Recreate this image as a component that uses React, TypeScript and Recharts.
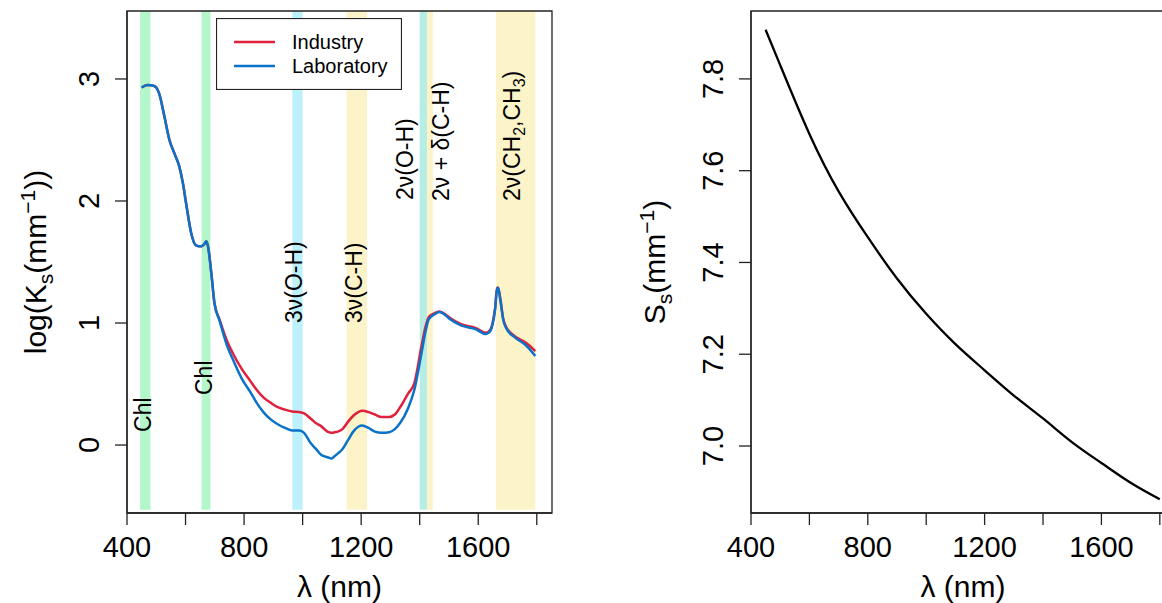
import React from 'react';
import {
  LineChart,
  Line,
  XAxis,
  YAxis,
  ReferenceArea,
  ReferenceDot,
  Legend,
} from 'recharts';

// wavelength grid (nm) for the log(Ks) spectra
const wavelengths = [
  450, 470, 490, 500, 510, 528, 545, 562, 579, 591, 602, 619, 634, 645, 655,
  665, 671, 677, 688, 699, 716, 744, 762, 793, 820, 842, 866, 891, 915, 940,
  965, 989, 1005, 1026, 1045, 1063, 1085, 1099, 1110, 1120, 1136, 1155, 1173, 1190, 1204,
  1225, 1247, 1270, 1296, 1315, 1333, 1360, 1382, 1406, 1420, 1431, 1450, 1467, 1485, 1504,
  1541, 1590, 1627, 1640, 1650, 1658, 1664, 1668, 1676, 1685, 1695, 1726, 1762, 1795,
];

const industry = [
  2.93, 2.95, 2.945, 2.93, 2.88, 2.69, 2.5, 2.39, 2.28, 2.145, 1.98, 1.74, 1.64, 1.63, 1.63,
  1.65, 1.67, 1.625, 1.41, 1.16, 1.03, 0.84, 0.75, 0.62, 0.53, 0.455, 0.39, 0.346, 0.31, 0.29,
  0.275, 0.27, 0.26, 0.22, 0.18, 0.155, 0.11, 0.1, 0.105, 0.11, 0.13, 0.19, 0.24, 0.27, 0.28,
  0.27, 0.25, 0.23, 0.23, 0.25, 0.31, 0.42, 0.51, 0.81, 0.97, 1.05, 1.08, 1.095, 1.075, 1.04,
  0.99, 0.96, 0.92, 0.94, 1.01, 1.13, 1.29, 1.29, 1.19, 1.04, 0.97, 0.89, 0.84, 0.77,
];

const laboratory = [
  2.93, 2.95, 2.945, 2.93, 2.88, 2.69, 2.5, 2.39, 2.28, 2.145, 1.98, 1.74, 1.64, 1.63, 1.63,
  1.65, 1.67, 1.625, 1.41, 1.16, 1.02, 0.8, 0.7, 0.54, 0.44, 0.35, 0.27, 0.21, 0.17, 0.14,
  0.12, 0.12, 0.1, 0.02, -0.03, -0.08, -0.1, -0.11, -0.09, -0.07, -0.035, 0.04, 0.11, 0.15, 0.16,
  0.14, 0.11, 0.1, 0.105, 0.13, 0.18, 0.3, 0.455, 0.75, 0.93, 1.03, 1.07, 1.09, 1.07, 1.03,
  0.98, 0.95, 0.91, 0.93, 1.0, 1.12, 1.27, 1.29, 1.18, 1.03, 0.96, 0.88, 0.82, 0.73,
];

// Ss curve
const ssWavelengths = [450, 500, 600, 700, 800, 900, 1000, 1100, 1200, 1300, 1400, 1500, 1600, 1700, 1800];
const ssValues = [7.907, 7.83, 7.68, 7.555, 7.455, 7.365, 7.288, 7.222, 7.165, 7.11, 7.06, 7.008, 6.963, 6.92, 6.884];

// absorption bands (nm) and their kind
const bandStart = [445, 655, 965, 1150, 1400, 1425, 1660];
const bandEnd = [480, 685, 1000, 1220, 1425, 1445, 1795];
const bandKind = ['chl', 'chl', 'oh', 'ch', 'oh2', 'ch', 'ch'];

// band annotations: wavelength, log(Ks) where the text starts
const noteWl = [455, 663, 970, 1174, 1350, 1473, 1715];
const noteY = [0.107, 0.41, 1.0, 1.0, 2.008, 2.0, 2.0];
const noteKey = ['chl', 'chl', '3oh', '3ch', '2oh', '2comb', '2ch'];

const xTicks = [400, 600, 800, 1000, 1200, 1400, 1600, 1800];
const xLabeled = [400, 800, 1200, 1600];
const ksTicks = [0, 1, 2, 3];
const ssTicks = [7.0, 7.2, 7.4, 7.6, 7.8];

const FONT = "'Liberation Sans', Arial, sans-serif";
const bandColors: Record<string, string> = {
  chl: '#b2f6c9',
  oh: '#bcf0fa',
  oh2: '#b6eee6',
  ch: '#fdf3c9',
};

const ksData = wavelengths.map((wl, i) => ({ wl, ind: industry[i], lab: laboratory[i] }));
const ssData = ssWavelengths.map((wl, i) => ({ wl, ss: ssValues[i] }));

const XTick = (props: any) => {
  const { x, y, payload } = props;
  if (!xLabeled.includes(payload.value)) return <g />;
  return (
    <text x={x} y={y} dy={32} textAnchor="middle" fontSize={29} fontFamily={FONT} fill="#000">
      {payload.value}
    </text>
  );
};

const makeYTick = (fmt: (v: number) => string) => (props: any) => {
  const { x, y, payload } = props;
  const bx = x - 16;
  return (
    <text
      x={bx}
      y={y}
      transform={`rotate(-90, ${bx}, ${y})`}
      textAnchor="middle"
      fontSize={29}
      fontFamily={FONT}
      fill="#000"
    >
      {fmt(payload.value)}
    </text>
  );
};

const noteText = (key: string) => {
  if (key === 'chl') return 'Chl';
  if (key === '3oh') return '3ν(O-H)';
  if (key === '3ch') return '3ν(C-H)';
  if (key === '2oh') return '2ν(O-H)';
  if (key === '2comb') return '2ν + δ(C-H)';
  return null;
};

const Note = ({ cx, cy, k }: any) => {
  const t = noteText(k);
  return (
    <text
      x={cx}
      y={cy}
      dy="0.35em"
      transform={`rotate(-90, ${cx}, ${cy})`}
      textAnchor="start"
      fontSize={23}
      fontFamily={FONT}
      fill="#000"
    >
      {t !== null ? (
        t
      ) : (
        <>
          2ν(CH
          <tspan dy={5} fontSize={16}>2</tspan>
          <tspan dy={-5}>,CH</tspan>
          <tspan dy={5} fontSize={16}>3</tspan>
          <tspan dy={-5}>)</tspan>
        </>
      )}
    </text>
  );
};

const KsTitle = (props: any) => {
  const { viewBox } = props;
  const x = viewBox.x + 46;
  const y = viewBox.y + viewBox.height / 2;
  return (
    <text x={x} y={y} transform={`rotate(-90, ${x}, ${y})`} textAnchor="middle" fontSize={30} fontFamily={FONT} fill="#000">
      log(K
      <tspan dy={7} fontSize={21}>s</tspan>
      <tspan dy={-7}>(mm</tspan>
      <tspan dy={-11} fontSize={21}>−1</tspan>
      <tspan dy={11}>))</tspan>
    </text>
  );
};

const SsTitle = (props: any) => {
  const { viewBox } = props;
  const x = viewBox.x + 65;
  const y = viewBox.y + viewBox.height / 2;
  return (
    <text x={x} y={y} transform={`rotate(-90, ${x}, ${y})`} textAnchor="middle" fontSize={30} fontFamily={FONT} fill="#000">
      S
      <tspan dy={7} fontSize={21}>s</tspan>
      <tspan dy={-7}>(mm</tspan>
      <tspan dy={-11} fontSize={21}>−1</tspan>
      <tspan dy={11}>)</tspan>
    </text>
  );
};

const XTitle = (props: any) => {
  const { viewBox } = props;
  return (
    <text x={viewBox.x + viewBox.width / 2} y={viewBox.y + 84} textAnchor="middle" fontSize={30} fontFamily={FONT} fill="#000">
      λ (nm)
    </text>
  );
};

const LegendBox = (props: any) => {
  const { payload } = props;
  return (
    <svg width={186} height={72} style={{ display: 'block' }}>
      <rect x={0.5} y={0.5} width={185} height={71} fill="#fff" stroke="#222" strokeWidth={1.2} />
      {(payload || []).map((p: any, i: number) => (
        <g key={p.value}>
          <line x1={18} x2={59} y1={24 + i * 24} y2={24 + i * 24} stroke={p.color} strokeWidth={2.6} />
          <text x={76} y={31 + i * 24} fontSize={20} fontFamily={FONT} fill="#000">
            {p.value}
          </text>
        </g>
      ))}
    </svg>
  );
};

const axisStroke = { stroke: '#222', strokeWidth: 1.3 };

export default function App() {
  return (
    <div style={{ position: 'absolute', left: 0, top: 0, width: 1162, height: 603, overflow: 'hidden', background: '#fff' }}>
      <div style={{ position: 'absolute', left: 0, top: 0 }}>
        <LineChart width={600} height={603} data={ksData} margin={{ top: 11, right: 48, bottom: 0, left: 0 }}>
          {bandStart.map((s, i) => (
            <ReferenceArea
              key={`b${i}`}
              x1={s}
              x2={bandEnd[i]}
              y1={-0.53}
              y2={3.557}
              fill={bandColors[bandKind[i]]}
              fillOpacity={1}
              stroke="none"
              ifOverflow="hidden"
            />
          ))}
          <XAxis
            dataKey="wl"
            type="number"
            domain={[400, 1852]}
            ticks={xTicks}
            allowDataOverflow
            height={90}
            tickSize={12}
            tickMargin={0}
            tick={<XTick />}
            tickLine={axisStroke}
            axisLine={axisStroke}
            label={<XTitle />}
          />
          <YAxis
            type="number"
            domain={[-0.557, 3.557]}
            ticks={ksTicks}
            allowDataOverflow
            width={127}
            tickSize={12}
            tickMargin={0}
            tick={makeYTick((v) => String(v))}
            tickLine={axisStroke}
            axisLine={axisStroke}
            label={<KsTitle />}
          />
          {noteWl.map((wl, i) => (
            <ReferenceDot
              key={`n${i}`}
              x={wl}
              y={noteY[i]}
              r={0}
              ifOverflow="visible"
              shape={(p: any) => <Note cx={p.cx} cy={p.cy} k={noteKey[i]} />}
            />
          ))}
          <ReferenceArea x1={400} x2={1852} y1={-0.557} y2={3.557} fill="none" stroke="#222" strokeWidth={1.3} />
          <Line type="monotone" dataKey="ind" name="Industry" stroke="#e0203c" strokeWidth={2.5} dot={false} isAnimationActive={false} />
          <Line type="monotone" dataKey="lab" name="Laboratory" stroke="#0a72c8" strokeWidth={2.5} dot={false} isAnimationActive={false} />
          <Legend
            layout="horizontal"
            verticalAlign="middle"
            align="center"
            content={<LegendBox />}
            wrapperStyle={{ position: 'absolute', left: 216, top: 18, width: 186, height: 72 }}
          />
        </LineChart>
      </div>
      <div style={{ position: 'absolute', left: 600, top: 0 }}>
        <LineChart width={600} height={603} data={ssData} margin={{ top: 11, right: 25, bottom: 0, left: 0 }}>
          <XAxis
            dataKey="wl"
            type="number"
            domain={[400, 1852]}
            ticks={xTicks}
            allowDataOverflow
            height={90}
            tickSize={12}
            tickMargin={0}
            tick={<XTick />}
            tickLine={axisStroke}
            axisLine={axisStroke}
            label={<XTitle />}
          />
          <YAxis
            type="number"
            domain={[6.854, 7.948]}
            ticks={ssTicks}
            allowDataOverflow
            width={151}
            tickSize={12}
            tickMargin={0}
            tick={makeYTick((v) => v.toFixed(1))}
            tickLine={axisStroke}
            axisLine={axisStroke}
            label={<SsTitle />}
          />
          <ReferenceArea x1={400} x2={1852} y1={6.854} y2={7.948} fill="none" stroke="#222" strokeWidth={1.3} />
          <Line type="natural" dataKey="ss" stroke="#000" strokeWidth={2.3} dot={false} isAnimationActive={false} />
        </LineChart>
      </div>
    </div>
  );
}
